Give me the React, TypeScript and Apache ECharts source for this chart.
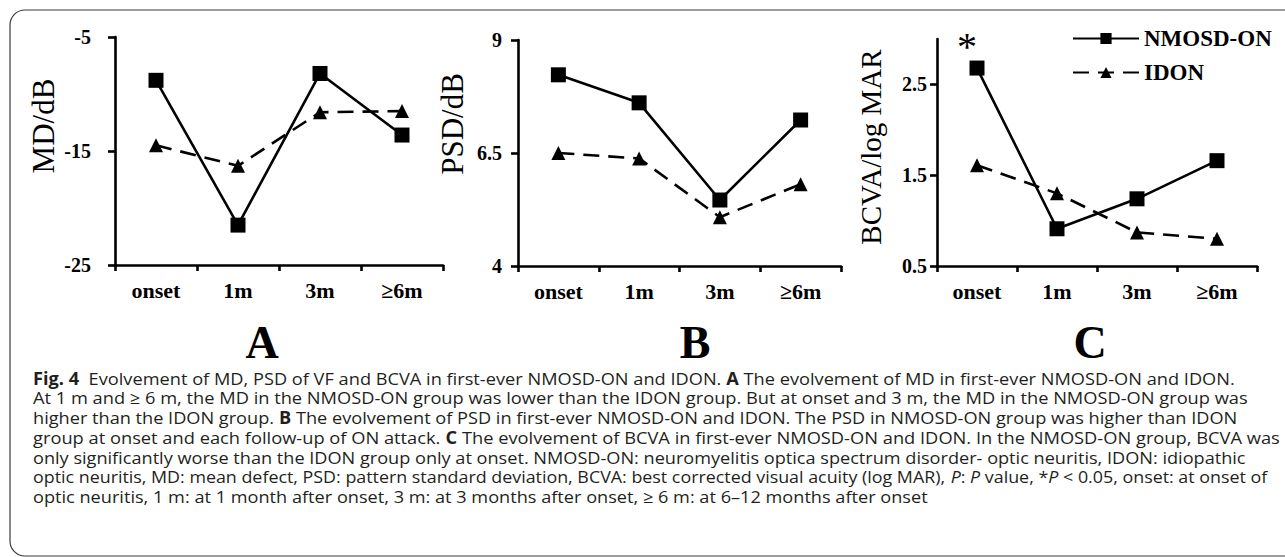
import React, { useEffect, useRef } from 'react';
import * as echarts from 'echarts';

// ---- data ----
const categories = ['onset', '1m', '3m', '≥6m'];
const seriesNames = ['NMOSD-ON', 'IDON'];

const mdNmosd = [-8.8, -21.5, -8.2, -13.6];
const mdIdon = [-14.5, -16.3, -11.6, -11.5];
const psdNmosd = [8.23, 7.61, 5.46, 7.23];
const psdIdon = [6.5, 6.38, 5.08, 5.81];
const bcvaNmosd = [2.68, 0.91, 1.24, 1.66];
const bcvaIdon = [1.61, 1.3, 0.87, 0.8];

const mdTicks = [-25, -15, -5];
const psdTicks = [4, 6.5, 9];
const bcvaTicks = [0.5, 1.5, 2.5];

const axisNames = ['MD/dB', 'PSD/dB', 'BCVA/log MAR'];
const panelLetters = ['A', 'B', 'C'];
const significanceMark = '*';

const captionLines = [
  '{b|Fig. 4}  Evolvement of MD, PSD of VF and BCVA in first-ever NMOSD-ON and IDON. {b|A} The evolvement of MD in first-ever NMOSD-ON and IDON.',
  'At 1 m and ≥ 6 m, the MD in the NMOSD-ON group was lower than the IDON group. But at onset and 3 m, the MD in the NMOSD-ON group was',
  'higher than the IDON group. {b|B} The evolvement of PSD in first-ever NMOSD-ON and IDON. The PSD in NMOSD-ON group was higher than IDON',
  'group at onset and each follow-up of ON attack. {b|C} The evolvement of BCVA in first-ever NMOSD-ON and IDON. In the NMOSD-ON group, BCVA was',
  'only significantly worse than the IDON group only at onset. NMOSD-ON: neuromyelitis optica spectrum disorder- optic neuritis, IDON: idiopathic',
  'optic neuritis, MD: mean defect, PSD: pattern standard deviation, BCVA: best corrected visual acuity (log MAR), {i|P}: {i|P} value, *{i|P} < 0.05, onset: at onset of',
  'optic neuritis, 1 m: at 1 month after onset, 3 m: at 3 months after onset, ≥ 6 m: at 6–12 months after onset',
];
// right ends of the caption lines in the reference (px); null = use the average scale
const captionLineEnds: (number | null)[] = [1235, 1249, 1238, 1280, 1247, 1268, null];

const SERIF = '"Liberation Serif", "Times New Roman", serif';
const SANS = '"Open Sans", "Noto Sans", sans-serif';
const CAP_SIZE = 17;

function measureRich(line: string, size: number): number {
  const canvas = document.createElement('canvas');
  const ctx = canvas.getContext('2d');
  if (!ctx) return 1200;
  const re = /\{(b|i)\|([^}]*)\}/g;
  let last = 0;
  let w = 0;
  let m: RegExpExecArray | null;
  const add = (t: string, style: string) => {
    ctx.font = `${style}${size}px "Open Sans"`;
    w += ctx.measureText(t).width;
  };
  while ((m = re.exec(line))) {
    add(line.slice(last, m.index), '');
    add(m[2], m[1] === 'b' ? 'bold ' : 'italic ');
    last = m.index + m[0].length;
  }
  add(line.slice(last), '');
  return w;
}

export default function App() {
  const ref = useRef<HTMLDivElement>(null);

  useEffect(() => {
    if (!ref.current) return;
    const chart = echarts.init(ref.current, null, { renderer: 'svg' });

    const grids = [
      { left: 115, top: 37, width: 328, height: 228 },
      { left: 518, top: 40, width: 323, height: 226 },
      { left: 937, top: 39, width: 320, height: 227 },
    ];
    const yRanges = [
      { min: -25, max: -5, interval: 10, ticks: mdTicks, margin: 24 },
      { min: 4, max: 9, interval: 2.5, ticks: psdTicks, margin: 16 },
      { min: 0.5, max: 3, interval: 1, ticks: bcvaTicks, margin: 10 },
    ];
    const nmosdData = [mdNmosd, psdNmosd, bcvaNmosd];
    const idonData = [mdIdon, psdIdon, bcvaIdon];

    const axisLine = { show: true, lineStyle: { color: '#000', width: 2.6 } };

    const xAxis = grids.map((_, i) => ({
      type: 'category',
      gridIndex: i,
      data: categories,
      boundaryGap: true,
      axisLine,
      axisTick: { show: true, length: 6, lineStyle: { color: '#000', width: 2.6 } },
      axisLabel: {
        color: '#000',
        fontFamily: SERIF,
        fontWeight: 'bold',
        fontSize: 22,
        margin: 14,
      },
      splitLine: { show: false },
    }));

    const yAxis = yRanges.map((r, i) => ({
      type: 'value',
      gridIndex: i,
      min: r.min,
      max: r.max,
      interval: r.interval,
      axisLine,
      axisTick: { show: true, length: 7, customValues: r.ticks, lineStyle: { color: '#000', width: 2.6 } },
      axisLabel: {
        customValues: r.ticks,
        color: '#000',
        fontFamily: SERIF,
        fontWeight: 'bold',
        fontSize: 20,
        margin: r.margin,
      },
      splitLine: { show: false },
    }));

    const series: any[] = [];
    grids.forEach((_, i) => {
      series.push({
        name: seriesNames[0],
        type: 'line',
        xAxisIndex: i,
        yAxisIndex: i,
        symbol: 'rect',
        symbolSize: 15,
        z: 3,
        lineStyle: { color: '#000', width: 2.6, type: 'solid' },
        itemStyle: { color: '#000' },
        data: nmosdData[i].map((v, j) =>
          i === 2 && j === 0
            ? {
                value: v,
                label: {
                  show: true,
                  formatter: significanceMark,
                  position: 'top',
                  offset: [-10, 11],
                  fontSize: 40,
                  fontFamily: SERIF,
                  color: '#000',
                },
              }
            : v
        ),
      });
      series.push({
        name: seriesNames[1],
        type: 'line',
        xAxisIndex: i,
        yAxisIndex: i,
        symbol: 'triangle',
        symbolSize: 14,
        z: 2,
        lineStyle: { color: '#000', width: 2.6, type: [16, 9] },
        itemStyle: { color: '#000' },
        data: idonData[i],
      });
    });

    const letterX = [262, 695, 1090];
    const nameX = [43, 452, 871];
    const nameY = [126, 124, 147];
    const nameSize = [31, 31, 29];

    const capStartX = 33;
    const scales = captionLines.map((t, k) => {
      const end = captionLineEnds[k];
      if (end == null) return NaN;
      const s = (end - capStartX) / measureRich(t, CAP_SIZE);
      return isFinite(s) && s > 0.75 && s < 1.3 ? s : 1;
    });
    const valid = scales.filter((s) => !isNaN(s));
    const avg = valid.reduce((a, b) => a + b, 0) / (valid.length || 1);
    const lineScale = scales.map((s) => (isNaN(s) ? avg : s));

    const rich = {
      b: { fontWeight: 'bold', fontSize: CAP_SIZE, fontFamily: SANS, fill: '#231f20' },
      i: { fontStyle: 'italic', fontSize: CAP_SIZE, fontFamily: SANS, fill: '#231f20' },
    };

    const graphic: any[] = [
      {
        type: 'rect',
        silent: true,
        z: -1,
        shape: { x: 10, y: 10, width: 1300, height: 546, r: [15, 0, 0, 15] },
        style: { fill: 'none', stroke: '#3a3a3a', lineWidth: 1.2 },
      },
      ...axisNames.map((t, i) => ({
        type: 'text',
        x: nameX[i],
        y: nameY[i],
        rotation: Math.PI / 2,
        style: {
          text: t,
          fontSize: nameSize[i],
          fontFamily: SERIF,
          fill: '#000',
          align: 'center',
          verticalAlign: 'middle',
        },
      })),
      ...panelLetters.map((t, i) => ({
        type: 'text',
        x: letterX[i],
        y: 342,
        style: {
          text: t,
          fontSize: 46,
          fontWeight: 'bold',
          fontFamily: SERIF,
          fill: '#000',
          align: 'center',
          verticalAlign: 'middle',
        },
      })),
      ...captionLines.map((t, k) => ({
        type: 'text',
        x: capStartX,
        y: 378 + 19.7 * k,
        scaleX: lineScale[k],
        style: {
          text: t,
          rich,
          fontSize: CAP_SIZE,
          fontFamily: SANS,
          fill: '#231f20',
          align: 'left',
          verticalAlign: 'middle',
        },
      })),
    ];

    chart.setOption({
      animation: false,
      backgroundColor: '#fff',
      grid: grids,
      xAxis,
      yAxis,
      series,
      legend: {
        data: seriesNames,
        orient: 'vertical',
        left: 1067,
        top: 22,
        itemWidth: 66,
        itemHeight: 14,
        itemGap: 11,
        textStyle: {
          color: '#000',
          fontFamily: SERIF,
          fontWeight: 'bold',
          fontSize: 23,
        },
      },
      graphic,
    });

    return () => chart.dispose();
  }, []);

  return (
    <div
      ref={ref}
      style={{ position: 'fixed', left: 0, top: 0, width: 1285, height: 557, background: '#fff' }}
    />
  );
}
